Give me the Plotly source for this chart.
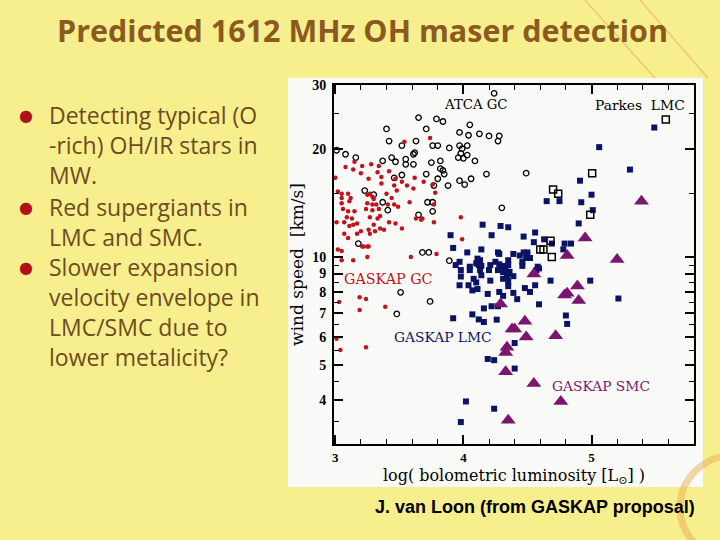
import plotly.graph_objects as go

# ---------------- data (log L, wind speed km/s) ----------------
gc_red_x = [3.00, 3.02, 3.01, 3.02, 3.05, 3.05, 3.08, 3.14, 3.15, 3.20, 3.21, 3.28, 3.34, 3.26, 3.33,
            3.36, 3.36, 3.42, 3.47, 3.46, 3.48, 3.52, 3.56, 3.62, 3.61, 3.58, 3.69, 3.76, 3.78, 3.77,
            3.68, 3.77, 3.98, 3.99, 3.59, 3.79, 3.05, 3.10, 3.12, 3.05, 3.05, 3.11, 3.06, 3.10, 3.15,
            3.09, 3.13, 3.07, 3.17, 3.11, 3.14, 3.07, 3.17, 3.10, 3.20, 3.25, 3.27, 3.29, 3.30, 3.25,
            3.29, 3.32, 3.24, 3.29, 3.34, 3.27, 3.33, 3.35, 3.26, 3.27, 3.31, 3.35, 3.38, 3.41, 3.46,
            3.49, 3.42, 3.47, 3.52, 3.63, 3.30, 3.54, 3.74, 3.14, 3.21, 3.26, 3.25, 3.22, 3.25, 3.67,
            3.03, 3.19, 3.24, 3.19, 3.39, 3.01, 3.04, 3.24, 3.40, 3.44]
gc_red_v = [16.6, 15.2, 12.5, 10.5, 10.4, 9.8, 17.8, 17.5, 18.4, 17.1, 17.9, 18.1, 17.9, 16.5, 17.2,
            16.7, 16.0, 17.3, 16.5, 15.8, 15.3, 16.2, 15.8, 16.6, 15.5, 14.2, 16.2, 15.9, 15.1, 14.0,
            12.8, 12.5, 12.9, 11.2, 10.0, 10.2, 15.0, 15.0, 14.6, 14.6, 14.1, 14.3, 13.6, 13.4, 13.4,
            12.9, 12.8, 12.5, 12.4, 12.2, 12.3, 11.6, 11.6, 11.3, 11.8, 14.9, 15.0, 14.7, 14.5, 14.1,
            14.0, 14.0, 13.6, 13.5, 13.6, 12.9, 12.8, 13.0, 11.9, 11.6, 11.8, 12.0, 11.9, 14.0, 14.0,
            13.8, 12.5, 12.4, 12.0, 12.8, 12.3, 20.9, 21.4, 9.8, 10.7, 10.7, 10.0, 10.7, 10.7, 12.7,
            7.5, 7.73, 7.65, 7.13, 7.28, 5.93, 5.52, 5.62, 15.0, 14.6]

atca_x = [4.24, 3.65, 3.79, 3.84, 3.40, 3.71, 4.05, 3.97, 4.04, 4.125, 4.20, 4.28, 4.27, 3.42, 3.63,
          3.52, 3.76, 3.80, 3.89, 3.97, 4.03, 3.99, 3.01, 3.08, 3.16, 3.37, 3.44, 3.47, 3.55, 3.55,
          3.61, 3.61, 3.62, 3.75, 3.82, 3.82, 3.84, 3.85, 3.98, 4.00, 4.03, 4.09, 3.96, 3.71, 3.46,
          3.52, 3.80, 3.88, 3.97, 4.01, 4.06, 4.18, 4.49, 3.77, 3.23, 3.30, 3.37, 3.41, 3.72, 3.76,
          3.76, 4.30, 3.65, 3.18, 3.68, 3.73, 3.89, 3.51, 3.74, 3.48]
atca_v = [28.5, 24.4, 24.2, 23.8, 22.7, 22.7, 23.3, 22.2, 21.8, 22.0, 21.7, 21.7, 21.0, 21.0, 21.0,
          20.4, 20.4, 20.4, 20.1, 20.4, 20.4, 20.0, 19.8, 19.3, 18.9, 18.5, 18.9, 18.4, 18.7, 18.1,
          19.3, 18.1, 19.5, 18.3, 18.5, 17.6, 17.4, 17.0, 19.4, 18.8, 19.2, 18.5, 18.9, 17.0, 16.6,
          16.9, 16.5, 15.8, 16.3, 15.9, 16.5, 17.0, 17.1, 15.8, 15.3, 14.9, 14.2, 13.5, 14.2, 14.2,
          13.4, 13.7, 13.1, 10.9, 10.3, 10.3, 9.77, 7.98, 7.53, 6.95]

parkes_x = [5.58, 5.005, 4.74, 4.99, 4.68, 4.60, 4.625, 4.69, 4.70]
parkes_v = [24.1, 17.1, 15.0, 13.1, 11.1, 10.5, 10.5, 10.0, 15.4]

lmc_x = [5.49, 5.06, 5.30, 4.91, 4.65, 4.75, 5.00, 4.92, 5.01, 4.90, 4.15, 4.29, 4.35, 3.90, 4.22,
         4.47, 4.56, 4.55, 4.63, 4.69, 4.79, 4.84, 4.78, 3.92, 4.03, 4.14, 4.27, 4.28, 4.35, 4.39,
         4.44, 4.47, 4.49, 4.50, 4.52, 4.46, 4.11, 4.13, 4.10, 3.97, 4.25, 4.28, 4.31, 4.20, 3.98,
         4.05, 4.13, 4.14, 4.33, 4.36, 4.58, 4.57,
         3.94, 4.05, 4.12, 4.21, 4.30, 4.35, 4.46, 4.59, 4.27, 4.31, 4.35, 3.98, 4.08, 4.10,
         4.14, 4.21, 4.31, 4.35, 4.34, 4.39, 3.97, 4.04, 4.07, 4.11, 4.19, 4.28, 4.31, 4.35, 4.39,
         4.42, 4.48, 4.52, 4.56, 4.68, 4.99, 5.21, 4.59, 4.16, 4.22, 4.27, 4.07, 4.12, 4.16, 4.26,
         3.92, 4.80, 4.81, 4.40, 4.19, 4.24, 4.40, 4.02, 4.24, 3.98]
lmc_v = [22.9, 20.2, 17.5, 16.3, 14.3, 14.3, 14.9, 14.2, 13.5, 12.4, 12.3, 12.2, 12.1, 11.5, 11.5,
         11.4, 11.7, 11.0, 11.2, 10.9, 10.9, 10.9, 10.5, 10.6, 10.3, 10.5, 10.3, 10.2, 9.8, 10.2,
         10.1, 10.3, 9.94, 10.3, 9.94, 9.7, 9.9, 9.8, 9.6, 9.7, 9.7, 9.55, 9.45, 9.2, 9.2,
         9.2, 9.2, 9.45, 9.2, 9.1, 9.4, 9.2,
         9.5, 9.4, 9.5, 9.5, 9.4, 9.5, 9.45, 9.3, 9.2, 9.08, 9.0, 8.83, 8.7, 8.5,
         8.9, 8.6, 8.7, 8.55, 8.8, 8.85, 8.35, 8.35, 8.08, 8.15, 7.9, 8.0, 7.8, 8.3, 7.95,
         7.64, 8.2, 8.0, 8.35, 8.6, 8.6, 7.67, 7.39, 7.2, 7.3, 7.3, 6.93, 6.71, 6.6, 6.7,
         6.76, 6.88, 6.52, 5.77, 5.21, 5.17, 4.9, 3.97, 3.79, 3.48]

smc_x = [5.39, 4.95, 4.81, 5.20, 4.55, 4.89, 4.81, 4.79, 4.90, 4.29, 4.48, 4.40, 4.38, 4.49, 4.72,
         4.34, 4.33, 4.33, 4.55, 4.76, 4.35]
smc_v = [14.3, 11.3, 10.1, 9.84, 8.97, 8.31, 7.93, 7.84, 7.57, 7.4, 6.63, 6.31, 6.31, 6.0, 6.04,
         5.62, 5.43, 4.80, 4.45, 3.97, 3.52]

y_tick_vals = [4, 5, 6, 7, 8, 9, 10, 20, 30]
y_minor_vals = [3.5, 4.5, 5.5, 6.5, 7.5, 8.5, 9.5, 15, 25]
x_tick_vals = [3, 4, 5]

bullets = [
    ["Detecting typical (O", "-rich) OH/IR stars in", "MW."],
    ["Red supergiants in", "LMC and SMC."],
    ["Slower expansion", "velocity envelope in", "LMC/SMC due to", "lower metalicity?"],
]

# ---------------- figure ----------------
RED = "#C0141C"
NAVY = "#0B1464"
PURPLE = "#7B1670"
BROWN_T = "#8B5A1E"
BROWN_B = "#6E4B1C"
BG = "#F7EF8E"

fig = go.Figure()
fig.add_trace(go.Scatter(x=atca_x, y=atca_v, mode="markers",
                         marker=dict(symbol="circle-open", size=5.5, color="black", line=dict(width=1.3))))
fig.add_trace(go.Scatter(x=gc_red_x, y=gc_red_v, mode="markers",
                         marker=dict(symbol="circle", size=4.5, color=RED)))
fig.add_trace(go.Scatter(x=lmc_x, y=lmc_v, mode="markers",
                         marker=dict(symbol="square", size=6, color=NAVY)))
fig.add_trace(go.Scatter(x=parkes_x, y=parkes_v, mode="markers",
                         marker=dict(symbol="square-open", size=7, color="black", line=dict(width=1.5))))
fig.add_trace(go.Scatter(x=smc_x, y=smc_v, mode="markers",
                         marker=dict(symbol="triangle-up", size=13, color=PURPLE)))

serif = "DejaVu Serif"
tserif = "Liberation Serif"
fig.update_layout(
    width=720, height=540,
    margin=dict(l=0, r=0, t=0, b=0),
    paper_bgcolor=BG,
    plot_bgcolor="#F8F8F6",
    showlegend=False,
    xaxis=dict(domain=[334/720, 694/720], range=[2.99, 5.8], tickvals=x_tick_vals,
               ticks="inside", ticklen=9, tickwidth=1.5, tickcolor="black",
               minor=dict(dtick=0.2, tick0=3, ticks="inside", ticklen=5, tickcolor="black", tickwidth=1.2),
               showline=True, linewidth=2, linecolor="black", mirror="allticks",
               showgrid=False, zeroline=False, automargin=False,
               tickfont=dict(family=tserif, size=13, color="black", weight="bold"),
               title=dict(text="log( bolometric luminosity [L<sub>⊙</sub>] )",
                          font=dict(family=serif, size=16, color="black"), standoff=6)),
    yaxis=dict(domain=[96/540, 455/540], type="log", range=[0.4806, 1.478],
               tickvals=y_tick_vals, ticktext=[str(v) for v in y_tick_vals],
               ticks="inside", ticklen=9, tickwidth=1.5, tickcolor="black",
               minor=dict(tickvals=y_minor_vals, ticks="inside", ticklen=5, tickcolor="black", tickwidth=1.2),
               showline=True, linewidth=2, linecolor="black", mirror="allticks",
               showgrid=False, zeroline=False, automargin=False, ticklabelstandoff=3,
               tickfont=dict(family=tserif, size=14, color="black", weight="bold"),
               title=dict(text="wind speed  [km/s]", font=dict(family=serif, size=17, color="black"),
                          standoff=4)),
)

# white panel behind chart
fig.add_shape(type="rect", xref="paper", yref="paper", x0=288/720, x1=703/720,
              y0=1-487/540, y1=1-78/540, fillcolor="#FAFAF8", line=dict(width=0), layer="below")

# faint decorative swirl lines of the slide background
fig.add_shape(type="circle", xref="paper", yref="paper", x0=680/720, x1=790/720,
              y0=1-560/540, y1=1-455/540, line=dict(color="#E9A84A", width=7),
              opacity=0.45, layer="below")
fig.add_shape(type="line", xref="paper", yref="paper", x0=585/720, y0=1.0, x1=655/720, y1=1-78/540,
              line=dict(color="#E9A84A", width=1.2), opacity=0.6, layer="below")
fig.add_shape(type="line", xref="paper", yref="paper", x0=640/720, y0=1.0, x1=708/720, y1=1-78/540,
              line=dict(color="#E9A84A", width=1.2), opacity=0.6, layer="below")

# labels inside chart
def lab(text, x, y, color, size=13.8):
    fig.add_annotation(text=text, x=x, y=y, xref="paper", yref="paper", showarrow=False,
                       xanchor="center", yanchor="middle",
                       font=dict(family=serif, size=size, color=color))

lab("ATCA GC", 476/720, 1-105/540, "black", 13.3)
lab("Parkes  LMC", 640/720, 1-105/540, "black")
lab("GASKAP GC", 388/720, 1-279/540, RED, 14.3)
lab("GASKAP LMC", 443/720, 1-337/540, NAVY)
lab("GASKAP SMC", 601/720, 1-386/540, PURPLE)

# title
fig.add_annotation(text="<b>Predicted 1612 MHz OH maser detection</b>", x=362/720, y=1-30/540,
                   xref="paper", yref="paper", showarrow=False, xanchor="center", yanchor="middle",
                   font=dict(family="Open Sans", size=30.5, color=BROWN_T))

# bullets: one multi-line text block per bullet
BSIZE = 23
LINE = 1.3 * BSIZE
centres = [145.5, 222, 312]
for lines, yc in zip(bullets, centres):
    first = yc - (len(lines) - 1) / 2 * LINE
    fig.add_annotation(text="●", x=26/720, y=1-first/540, xref="paper", yref="paper",
                       showarrow=False, xanchor="center", yanchor="middle",
                       font=dict(family="DejaVu Sans", size=16, color="#B0101A"))
    fig.add_annotation(text="<br>".join(lines), x=47/720, y=1-yc/540, xref="paper", yref="paper",
                       showarrow=False, xanchor="left", yanchor="middle", align="left",
                       font=dict(family="Open Sans", size=BSIZE, color=BROWN_B))

# caption
fig.add_annotation(text="<b>J. van Loon (from GASKAP proposal)</b>", x=697/720, y=1-507/540,
                   xref="paper", yref="paper", showarrow=False, xanchor="right", yanchor="middle",
                   font=dict(family="Liberation Sans", size=18, color="black"))

fig.write_html("out.html", config={"displayModeBar": False},
               post_script="document.body.style.margin='0px';document.body.style.background='%s';" % BG)
